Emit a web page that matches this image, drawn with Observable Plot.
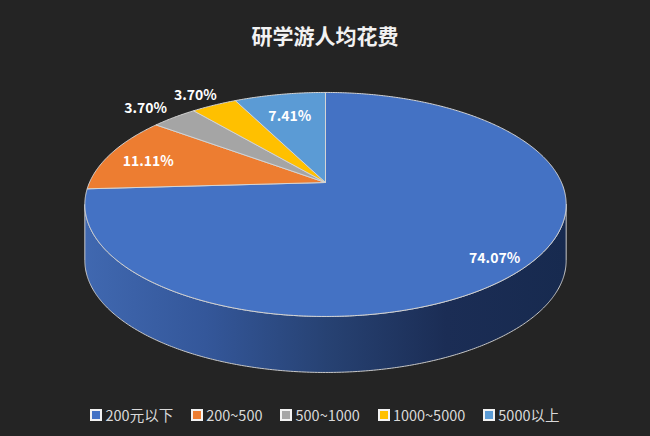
<!DOCTYPE html>
<html>
<head>
<meta charset="utf-8">
<script src="https://cdn.jsdelivr.net/npm/d3@7"></script>
<script src="https://cdn.jsdelivr.net/npm/@observablehq/plot@0.6"></script>
<style>
  html, body { margin: 0; padding: 0; background: #242424; }
  #wrap { width: 650px; height: 436px; overflow: hidden; background: #242424; font-family: "Noto Sans CJK SC", "Noto Sans", sans-serif; }
  #title { height: 50px; padding-top: 10px; line-height: 50px; text-align: center; color: #f2f2f2; font-size: 21px; font-weight: bold; }
  #legend { display: flex; justify-content: center; gap: 18px; height: 30px; line-height: 30px; color: #d9d9d9; font-size: 14.5px; }
  .item { display: flex; align-items: center; gap: 3px; }
  .sw { width: 8px; height: 8px; border: 2px solid #f2f2f2; box-sizing: content-box; }
  svg { display: block; }
</style>
</head>
<body>
<div id="wrap">
  <div id="title"></div>
  <div id="chart"></div>
  <div id="legend"></div>
</div>
<script>
// ---- data ----
const title = "研学游人均花费";
const categories = ["200元以下", "200~500", "500~1000", "1000~5000", "5000以上"];
const percents = [74.07, 11.11, 3.70, 3.70, 7.41];
const colors = ["#4472C4", "#ED7D31", "#A5A5A5", "#FFC000", "#5B9BD5"];

// ---- layout (3D pie geometry) ----
const W = 650, H = 340;
const CX = 325, CY = 122, A = 236, B = 107.7, K = 0.196, DEPTH = 56;
const labelR = [0.87, 0.82, 1.22, 1.2, 0.75];

function project(deg, r = 1, drop = 0) {
  const t = deg * Math.PI / 180;
  const u = r * Math.sin(t), v = -r * Math.cos(t);
  const w = 1 - K * v;
  return {x: CX + A * u / w, y: CY + B * v / w + drop};
}

const total = d3.sum(percents);
const slices = [];
let acc = 0;
categories.forEach((c, i) => {
  const a0 = acc / total * 360;
  acc += percents[i];
  const a1 = acc / total * 360;
  slices.push({cat: c, value: percents[i], a0, a1, color: colors[i], i});
});

function slicePoly(s) {
  const pts = [{x: CX, y: CY}];
  const n = Math.max(2, Math.ceil((s.a1 - s.a0) / 0.5));
  for (let j = 0; j <= n; j++) pts.push(project(s.a0 + (s.a1 - s.a0) * j / n));
  pts.push({x: CX, y: CY});
  return pts;
}

// side band (front, visible part of the rim)
const thR = Math.acos(-K) * 180 / Math.PI;   // right silhouette
const thL = 360 - thR;                       // left silhouette
const side = [];
const ns = 300;
for (let j = 0; j <= ns; j++) side.push(project(thR + (thL - thR) * j / ns));
for (let j = ns; j >= 0; j--) side.push(project(thR + (thL - thR) * j / ns, 1, DEPTH));
side.push(side[0]);

const labels = slices.map(s => {
  const p = project((s.a0 + s.a1) / 2, labelR[s.i]);
  return {x: p.x, y: p.y, text: s.value.toFixed(2) + "%"};
});

const marks = [
  Plot.line(side, {x: "x", y: "y", fill: "url(#sideGrad)", stroke: "#c8c8c8", strokeWidth: 1, curve: "linear"})
];
slices.forEach(s => {
  marks.push(Plot.line(slicePoly(s), {x: "x", y: "y", fill: s.color, stroke: "#d4d4d4", strokeWidth: 1, strokeLinejoin: "round"}));
});
marks.push(Plot.text(labels, {x: "x", y: "y", text: "text", fill: "#ffffff", fontSize: 14, fontWeight: "bold", dy: 3,
  fontFamily: "'Noto Sans CJK SC', 'Noto Sans', sans-serif"}));

const plot = Plot.plot({
  width: W, height: H,
  margin: 0,
  x: {domain: [0, W], range: [0, W], axis: null},
  y: {domain: [0, H], range: [0, H], axis: null},
  style: {background: "transparent", overflow: "visible"},
  marks
});

// gradient for the side
const ns_ = "http://www.w3.org/2000/svg";
const defs = document.createElementNS(ns_, "defs");
defs.innerHTML = `<linearGradient id="sideGrad" x1="0" y1="0" x2="1" y2="0">
  <stop offset="0" stop-color="#4068b0"/>
  <stop offset="0.25" stop-color="#34579a"/>
  <stop offset="0.5" stop-color="#274273"/>
  <stop offset="0.75" stop-color="#1b2d55"/>
  <stop offset="1" stop-color="#172a4f"/>
</linearGradient>`;
plot.insertBefore(defs, plot.firstChild);

document.getElementById("title").textContent = title;
document.getElementById("chart").appendChild(plot);

const legend = d3.select("#legend");
categories.forEach((c, i) => {
  const it = legend.append("div").attr("class", "item");
  it.append("div").attr("class", "sw").style("background", colors[i]);
  it.append("span").text(c);
});
</script>
</body>
</html>
